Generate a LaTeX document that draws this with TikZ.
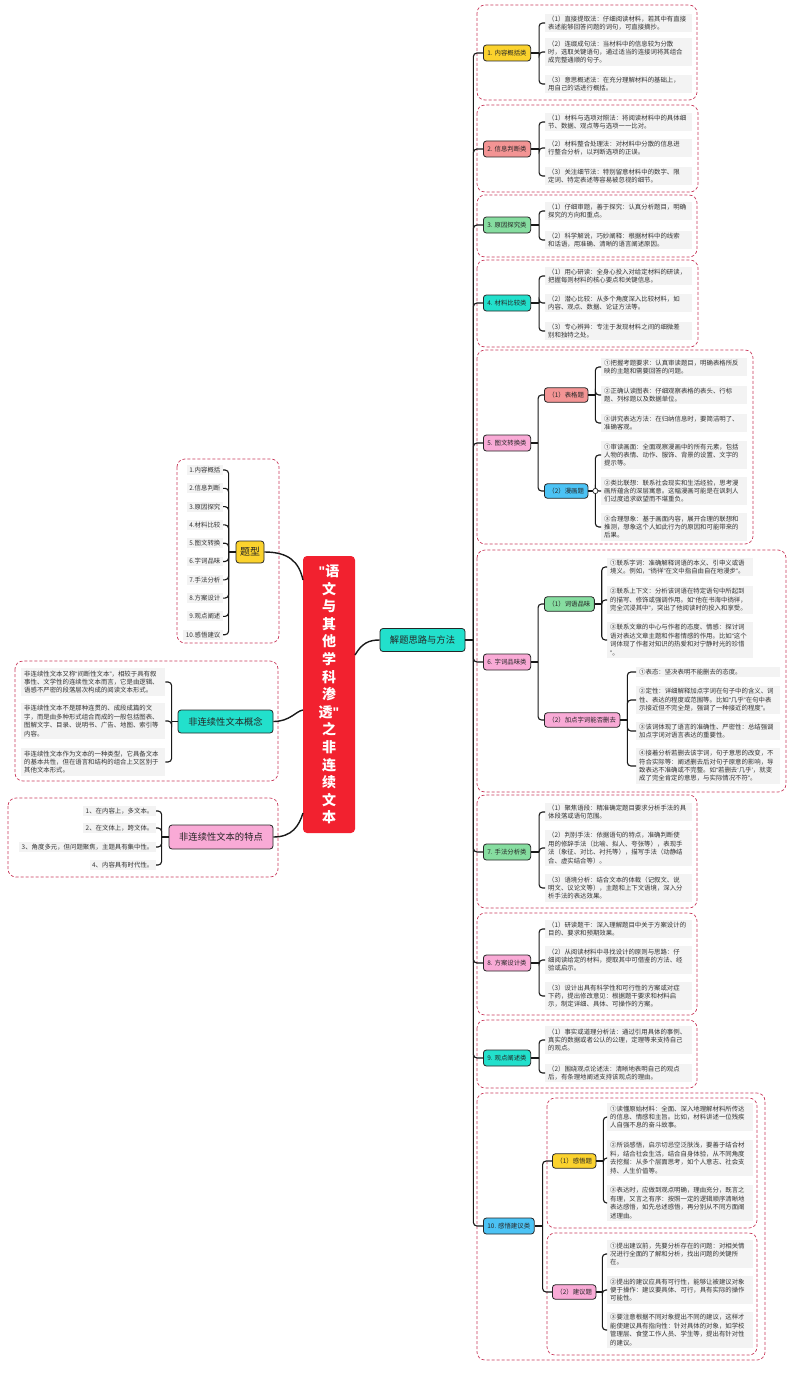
\documentclass[tikz,border=0pt]{standalone}
\usepackage{fontspec}
\setmainfont{Noto Sans CJK SC}
\newfontfamily\latinfont{Liberation Sans}
\newcommand{\myql}{{\latinfont “}}
\newcommand{\myqr}{{\latinfont ”}}
\newcommand{\mysql}{{\latinfont ‘}}
\newcommand{\mysqr}{{\latinfont ’}}
\definecolor{ctred}{HTML}{F2212F}
\definecolor{cyellow}{HTML}{FBD22D}
\definecolor{csalmon}{HTML}{F39494}
\definecolor{cgreen}{HTML}{86DDA0}
\definecolor{cteal}{HTML}{22E0CC}
\definecolor{cpink}{HTML}{F9AAD6}
\definecolor{cblue}{HTML}{4CC3F5}
\definecolor{framered}{HTML}{C8385A}
\definecolor{leafgray}{HTML}{F3F3F3}
\tikzset{
  conn/.style={draw=black!90, line width=1.1pt, rounded corners=3.5pt},
  bigconn/.style={draw=black!90, line width=1.4pt},
  frame/.style={draw=framered, line width=0.7pt, dash pattern=on 3pt off 2pt, rounded corners=8pt},
  topic/.style={draw=black!85, line width=0.8pt, rounded corners=3pt, font=\fontsize{6.4}{7.5}\selectfont, text=black!85, minimum height=16pt, inner xsep=4pt, inner ysep=1pt, anchor=west},
  subtopic/.style={topic, minimum height=14.5pt},
  leafL/.style={fill=leafgray, font=\fontsize{6.4}{8.4}\selectfont, text=black!80, align=left, inner xsep=3pt, inner ysep=2.2pt, anchor=west, text width=#1},
  leafL/.default=141pt,
  leafR/.style={fill=leafgray, font=\fontsize{6.4}{8.4}\selectfont, text=black!80, inner xsep=2.5pt, inner ysep=2pt, anchor=east},
  bignode/.style={draw=black!85, line width=0.8pt, rounded corners=3pt, font=\fontsize{9.3}{11}\selectfont, text=black!85, inner sep=1pt},
  title/.style={fill=ctred, rounded corners=4pt, text=white, font=\fontsize{14}{17.6}\selectfont\bfseries, align=center, minimum width=52pt, minimum height=277pt, inner sep=0pt},
}
\begin{document}
\begin{tikzpicture}[x=1pt,y=-1pt]
\useasboundingbox (0,0) rectangle (794,1383);
% ---------- frames ----------
\draw[frame] (477,5) rectangle (697,100);
\draw[frame] (477,105) rectangle (698,192);
\draw[frame] (477,195) rectangle (697,257);
\draw[frame] (477,260) rectangle (698,347);
\draw[frame] (477,350) rectangle (753,544);
\draw[frame] (477,550) rectangle (786,792);
\draw[frame] (477,795) rectangle (697,908);
\draw[frame] (477,913) rectangle (697,1015);
\draw[frame] (477,1020) rectangle (697,1088);
\draw[frame] (477,1093) rectangle (765,1360);
\draw[frame] (547,1098) rectangle (757,1228);
\draw[frame] (547,1233) rectangle (757,1355);
\draw[frame] (177,459) rectangle (279,643);
\draw[frame] (15,661) rectangle (278,781);
\draw[frame] (8,798) rectangle (278,877);

% ---------- central ----------
\node[title] (ct) at (329,694.5) {{\latinfont"}语\\文\\与\\其\\他\\学\\科\\渗\\透{\latinfont"}\\之\\非\\连\\续\\文\\本};
\node[bignode, fill=cteal, minimum width=85pt, minimum height=23pt] (jt) at (422.5,640) {解题思路与方法};
\node[bignode, fill=cyellow, minimum width=28pt, minimum height=22pt, font=\fontsize{10}{12}\selectfont] (tx) at (250,552) {题型};
\node[bignode, fill=cteal, minimum width=95pt, minimum height=23pt] (cn) at (225.5,721.5) {非连续性文本概念};
\node[bignode, fill=cpink, minimum width=104pt, minimum height=24pt] (fn) at (221,837) {非连续性文本的特点};

% ---------- left leaves ----------
\node[leafR] (t1) at (223,470) {1.内容概括};
\node[leafR] (t2) at (223,488.3) {2.信息判断};
\node[leafR] (t3) at (223,506.6) {3.原因探究};
\node[leafR] (t4) at (223,524.9) {4.材料比较};
\node[leafR] (t5) at (223,543.2) {5.图文转换};
\node[leafR] (t6) at (223,561.5) {6.字词品味};
\node[leafR] (t7) at (223,579.8) {7.手法分析};
\node[leafR] (t8) at (223,598.1) {8.方案设计};
\node[leafR] (t9) at (223,616.4) {9.观点阐述};
\node[leafR] (t10) at (223,634.7) {10.感悟建议};

\node[leafL=138pt] (k1) at (21,682) {非连续性文本又称\myql 间断性文本\myqr ，相较于具有叙\\事性、文学性的连续性文本而言，它是由逻辑、\\语感不严密的段落层次构成的阅读文本形式。};
\node[leafL=138pt] (k2) at (21,721) {非连续性文本不是那种连贯的、成段成篇的文\\字，而是由多种形式组合而成的一般包括图表、\\图解文字、目录、说明书、广告、地图、索引等\\内容。};
\node[leafL=138pt] (k3) at (21,762) {非连续性文本作为文本的一种类型，它具备文本\\的基本共性，但在语言和结构的组合上又区别于\\其他文本形式。};

\node[leafR] (f1) at (156,811) {1、在内容上，多文本。};
\node[leafR] (f2) at (156,828) {2、在文体上，跨文体。};
\node[leafR] (f3) at (156,847) {3、角度多元，但问题聚焦，主题具有集中性。};
\node[leafR] (f4) at (156,865) {4、内容具有时代性。};

% ---------- categories ----------
\node[topic, fill=cyellow] (c1) at (483,53) {1. 内容概括类};
\node[topic, fill=csalmon] (c2) at (483,149) {2. 信息判断类};
\node[topic, fill=cgreen] (c3) at (483,225) {3. 原因探究类};
\node[topic, fill=cteal] (c4) at (483,303) {4. 材料比较类};
\node[topic, fill=cpink] (c5) at (483,443) {5. 图文转换类};
\node[topic, fill=cpink] (c6) at (483,662) {6. 字词品味类};
\node[topic, fill=cgreen] (c7) at (483,852) {7. 手法分析类};
\node[topic, fill=cpink] (c8) at (483,963) {8. 方案设计类};
\node[topic, fill=cteal] (c9) at (483,1058) {9. 观点阐述类};
\node[topic, fill=cblue] (c10) at (483,1226) {10. 感悟建议类};

% ---------- sub topics ----------
\node[subtopic, fill=csalmon] (s5a) at (544,395) {（1）表格题};
\node[subtopic, fill=cblue] (s5b) at (544,491) {（2）漫画题};
\node[subtopic, fill=cgreen] (s6a) at (544,604) {（1）词语品味};
\node[subtopic, fill=cpink] (s6b) at (544,720) {（2）加点字词能否删去};
\node[subtopic, fill=cyellow] (s10a) at (552,1161) {（1）感悟题};
\node[subtopic, fill=cpink] (s10b) at (552,1292) {（2）建议题};

% ---------- leaves ----------
\node[leafL] (l1a) at (545,23) {（1）直接提取法：仔细阅读材料，若其中有直接\\表述能够回答问题的词句，可直接摘抄。};
\node[leafL] (l1b) at (545,52) {（2）连缀成句法：当材料中的信息较为分散\\时，选取关键语句，通过适当的连接词将其组合\\成完整通顺的句子。};
\node[leafL] (l1c) at (545,84) {（3）意思概述法：在充分理解材料的基础上，\\用自己的话进行概括。};

\node[leafL] (l2a) at (545,122) {（1）材料与选项对照法：将阅读材料中的具体细\\节、数据、观点等与选项一一比对。};
\node[leafL] (l2b) at (545,148) {（2）材料整合处理法：对材料中分散的信息进\\行整合分析，以判断选项的正误。};
\node[leafL] (l2c) at (545,176) {（3）关注细节法：特别留意材料中的数字、限\\定词、特定表述等容易被忽视的细节。};

\node[leafL] (l3a) at (545,211) {（1）仔细审题，善于探究：认真分析题目，明确\\探究的方向和重点。};
\node[leafL] (l3b) at (545,240) {（2）科学解说，巧妙阐释：根据材料中的线索\\和话语，用准确、清晰的语言阐述原因。};

\node[leafL] (l4a) at (545,276) {（1）用心研读：全身心投入对给定材料的研读，\\把握每则材料的核心要点和关键信息。};
\node[leafL] (l4b) at (545,303) {（2）潜心比较：从多个角度深入比较材料，如\\内容、观点、数据、论证方法等。};
\node[leafL] (l4c) at (545,331) {（3）专心辨异：专注于发现材料之间的细微差\\别和独特之处。};

\node[leafL=140pt] (l5a1) at (601,367) {①把握考题要求：认真审读题目，明确表格所反\\映的主题和需要回答的问题。};
\node[leafL=140pt] (l5a2) at (601,395) {②正确认读图表：仔细观察表格的表头、行标\\题、列标题以及数据单位。};
\node[leafL=140pt] (l5a3) at (601,423) {③讲究表达方法：在归纳信息时，要简洁明了、\\准确客观。};
\node[leafL=140pt] (l5b1) at (601,455) {①审读画面：全面观察漫画中的所有元素，包括\\人物的表情、动作、服饰、背景的设置、文字的\\提示等。};
\node[leafL=140pt] (l5b2) at (601,491) {②类比联想：联系社会现实和生活经验，思考漫\\画所蕴含的深层寓意。这幅漫画可能是在讽刺人\\们过度追求欲望而不堪重负。};
\node[leafL=140pt] (l5b3) at (601,527) {③合理想象：基于画面内容，展开合理的联想和\\推测，想象这个人如此行为的原因和可能带来的\\后果。};

\node[leafL=140pt] (l6a1) at (607,567) {①联系字词：准确解释词语的本义、引申义或语\\境义。例如，\myql 徜徉\myqr 在文中指自由自在地漫步\myqr 。};
\node[leafL=140pt] (l6a2) at (607,600) {②联系上下文：分析该词语在特定语句中所起到\\的描写、修饰或强调作用。如\myql 他在书海中徜徉，\\完全沉浸其中\myqr ，突出了他阅读时的投入和享受。};
\node[leafL=140pt] (l6a3) at (607,640) {③联系文章的中心与作者的态度、情感：探讨词\\语对表达文章主题和作者情感的作用。比如\myql 这个\\词体现了作者对知识的热爱和对宁静时光的珍惜\\\myqr 。};
\node[leafL=138pt] (l6b1) at (636,672) {①表态：坚决表明不能删去的态度。};
\node[leafL=138pt] (l6b2) at (636,700) {②定性：详细解释加点字词在句子中的含义、词\\性、表达的程度或范围等。比如\myql 几乎\myqr 在句中表\\示接近但不完全是，强调了一种接近的程度\myqr 。};
\node[leafL=138pt] (l6b3) at (636,731) {③该词体现了语言的准确性、严密性：总结强调\\加点字词对语言表达的重要性。};
\node[leafL=138pt] (l6b4) at (636,766) {④接着分析若删去该字词，句子意思的改变，不\\符合实际等：阐述删去后对句子原意的影响，导\\致表达不准确或不完整。如\myql 若删去\mysql 几乎\mysqr ，就变\\成了完全肯定的意思，与实际情况不符\myqr 。};

\node[leafL] (l7a) at (545,812) {（1）聚焦语段：精准确定题目要求分析手法的具\\体段落或语句范围。};
\node[leafL] (l7b) at (545,848) {（2）判别手法：依据语句的特点，准确判断使\\用的修辞手法（比喻、拟人、夸张等），表现手\\法（象征、对比、衬托等），描写手法（动静结\\合、虚实结合等）。};
\node[leafL] (l7c) at (545,888) {（3）语境分析：结合文本的体裁（记叙文、说\\明文、议论文等），主题和上下文语境，深入分\\析手法的表达效果。};

\node[leafL] (l8a) at (545,929) {（1）研读题干：深入理解题目中关于方案设计的\\目的、要求和预期效果。};
\node[leafL] (l8b) at (545,960) {（2）从阅读材料中寻找设计的原则与思路：仔\\细阅读给定的材料，提取其中可借鉴的方法、经\\验或启示。};
\node[leafL] (l8c) at (545,996) {（3）设计出具有科学性和可行性的方案或对症\\下药，提出修改意见：根据题干要求和材料启\\示，制定详细、具体、可操作的方案。};

\node[leafL] (l9a) at (545,1040) {（1）事实或道理分析法：通过引用具体的事例、\\真实的数据或者公认的公理，定理等来支持自己\\的观点。};
\node[leafL] (l9b) at (545,1073) {（2）围绕观点论述法：清晰地表明自己的观点\\后，有条理地阐述支持该观点的理由。};

\node[leafL=140pt] (m1) at (607,1117) {①读懂原始材料：全面、深入地理解材料所传达\\的信息、情感和主旨。比如，材料讲述一位残疾\\人自强不息的奋斗故事。};
\node[leafL=140pt] (m2) at (607,1158) {②所谈感悟，启示切忌空泛肤浅，要善于结合材\\料，结合社会生活，结合自身体验，从不同角度\\去挖掘：从多个层面思考，如个人意志、社会支\\持、人生价值等。};
\node[leafL=140pt] (m3) at (607,1203) {③表达时，应做到观点明确，理由充分，既言之\\有理，又言之有序：按照一定的逻辑顺序清晰地\\表达感悟，如先总述感悟，再分别从不同方面阐\\述理由。};
\node[leafL=140pt] (n1) at (607,1254) {①提出建议前，先要分析存在的问题：对相关情\\况进行全面的了解和分析，找出问题的关键所\\在。};
\node[leafL=140pt] (n2) at (607,1290) {②提出的建议应具有可行性，能够让被建议对象\\便于操作：建议要具体、可行，具有实际的操作\\可能性。};
\node[leafL=140pt] (n3) at (607,1330) {③要注意根据不同对象提出不同的建议，这样才\\能使建议具有指向性：针对具体的对象，如学校\\管理层、食堂工作人员、学生等，提出有针对性\\的建议。};

% ---------- main curves ----------
\coordinate (ctA) at (303,580);
\coordinate (ctB) at (303,710);
\coordinate (ctC) at (303,813);
\coordinate (ctD) at (355,655);
\draw[bigconn] (tx.east) .. controls (289,552) and (299,562) .. (ctA);
\draw[bigconn] (cn.east) .. controls (290,721.5) and (296,711) .. (ctB);
\draw[bigconn] (fn.east) .. controls (292,837) and (299,826) .. (ctC);
\draw[bigconn] (ctD) .. controls (362,643) and (369,640) .. (jt.west);

% ---------- trunk ----------
\draw[conn] (jt.east) -- ++(8,0) coordinate (tr);
\foreach \n in {c1,c2,c3,c4,c5,c6,c7,c8,c9,c10} \draw[conn] (tr) |- (\n.west);

% ---------- left brackets ----------
\draw[conn] (tx.west) -- ++(-7,0) coordinate (bt);
\foreach \n in {t1,t2,t3,t4,t5,t6,t7,t8,t9,t10} \draw[conn] (bt) |- (\n.east);
\draw[conn] (cn.west) -- ++(-6,0) coordinate (bk);
\foreach \n in {k1,k2,k3} \draw[conn] (bk) |- (\n.east);
\draw[conn] (fn.west) -- ++(-7,0) coordinate (bf);
\foreach \n in {f1,f2,f3,f4} \draw[conn] (bf) |- (\n.east);

% ---------- right brackets ----------
\draw[conn] (c1.east) -- ++(8,0) coordinate (b1);
\foreach \n in {l1a,l1b,l1c} \draw[conn] (b1) |- (\n.west);
\draw[conn] (c2.east) -- ++(8,0) coordinate (b2);
\foreach \n in {l2a,l2b,l2c} \draw[conn] (b2) |- (\n.west);
\draw[conn] (c3.east) -- ++(8,0) coordinate (b3);
\foreach \n in {l3a,l3b} \draw[conn] (b3) |- (\n.west);
\draw[conn] (c4.east) -- ++(8,0) coordinate (b4);
\foreach \n in {l4a,l4b,l4c} \draw[conn] (b4) |- (\n.west);
\draw[conn] (c5.east) -- ++(7,0) coordinate (b5);
\foreach \n in {s5a,s5b} \draw[conn] (b5) |- (\n.west);
\draw[conn] (s5a.east) -- ++(7,0) coordinate (b5a);
\foreach \n in {l5a1,l5a2,l5a3} \draw[conn] (b5a) |- (\n.west);
\draw[conn] (s5b.east) -- ++(7,0) coordinate (b5b);
\foreach \n in {l5b1,l5b2,l5b3} \draw[conn] (b5b) |- (\n.west);
\draw[black!85, line width=0.7pt, fill=white] (b5b) circle (2.6pt);
\draw[conn] (c6.east) -- ++(7,0) coordinate (b6);
\foreach \n in {s6a,s6b} \draw[conn] (b6) |- (\n.west);
\draw[conn] (s6a.east) -- ++(7,0) coordinate (b6a);
\foreach \n in {l6a1,l6a2,l6a3} \draw[conn] (b6a) |- (\n.west);
\draw[conn] (s6b.east) -- ++(7,0) coordinate (b6b);
\foreach \n in {l6b1,l6b2,l6b3,l6b4} \draw[conn] (b6b) |- (\n.west);
\draw[conn] (c7.east) -- ++(8,0) coordinate (b7);
\foreach \n in {l7a,l7b,l7c} \draw[conn] (b7) |- (\n.west);
\draw[conn] (c8.east) -- ++(8,0) coordinate (b8);
\foreach \n in {l8a,l8b,l8c} \draw[conn] (b8) |- (\n.west);
\draw[conn] (c9.east) -- ++(8,0) coordinate (b9);
\foreach \n in {l9a,l9b} \draw[conn] (b9) |- (\n.west);
\draw[conn] (c10.east) -- ++(8,0) coordinate (b10);
\foreach \n in {s10a,s10b} \draw[conn] (b10) |- (\n.west);
\draw[conn] (s10a.east) -- ++(7,0) coordinate (b10a);
\foreach \n in {m1,m2,m3} \draw[conn] (b10a) |- (\n.west);
\draw[conn] (s10b.east) -- ++(6,0) coordinate (b10b);
\foreach \n in {n1,n2,n3} \draw[conn] (b10b) |- (\n.west);
\end{tikzpicture}
\end{document}
